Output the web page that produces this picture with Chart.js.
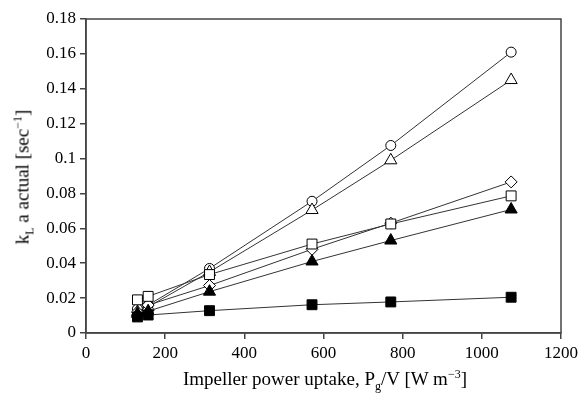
<!DOCTYPE html>
<html>
<head>
<meta charset="utf-8">
<script src="https://cdn.jsdelivr.net/npm/chart.js@4"></script>
<style>
  body { margin: 0; background: #fff; }
  #wrap { position: relative; width: 582px; height: 394px; }
  .ttl { position: absolute; font-family: "Liberation Serif", serif; font-size: 19px; line-height: 1; color: #000; white-space: nowrap; }
  .ttl sub, .ttl sup { font-size: 12px; line-height: 0; }
  #xTitle { left: 325px; top: 369px; transform: translateX(-50%); }
  #yTitle { left: 22px; top: 177px; transform: translate(-50%, -50%) rotate(-90deg); }
</style>
</head>
<body>
<div id="wrap">
  <canvas id="chart" width="582" height="394"></canvas>
  <div class="ttl" id="xTitle">Impeller power uptake, P<sub>g</sub>/V [W m<sup>&minus;3</sup>]</div>
  <div class="ttl" id="yTitle">k<sub>L</sub> a actual [sec<sup>&minus;1</sup>]</div>
</div>
<script>
// power uptake (x) values
const powerUptake = [130, 157, 312, 571, 770, 1074];

// kLa series
const openCircle   = [0.0138, 0.016, 0.037, 0.0755, 0.1075, 0.161];
const openTriangle = [0.012, 0.015, 0.035, 0.0705, 0.099, 0.145];
const openDiamond  = [0.012, 0.016, 0.0272, 0.048, 0.063, 0.0866];
const openSquare   = [0.019, 0.021, 0.0335, 0.051, 0.0625, 0.0786];
const filledTriangle = [0.011, 0.0125, 0.0237, 0.041, 0.053, 0.0708];
const filledSquare = [0.0092, 0.0103, 0.0128, 0.0162, 0.0178, 0.0205];

const xTicks = [0, 200, 400, 600, 800, 1000, 1200];
const yTicks = [0, 0.02, 0.04, 0.06, 0.08, 0.1, 0.12, 0.14, 0.16, 0.18];

function pts(ys) {
  return ys.map((y, i) => ({ x: powerUptake[i], y: y }));
}

function series(label, ys, style, filled, radius) {
  return {
    label: label,
    data: pts(ys),
    borderColor: '#333',
    borderWidth: 1,
    pointStyle: style,
    pointRadius: radius,
    pointBorderWidth: 1,
    pointBorderColor: '#000',
    pointBackgroundColor: filled ? '#000' : '#fff',
    showLine: true,
    fill: false,
    tension: 0
  };
}

const framePlugin = {
  id: 'frame',
  afterDraw(chart) {
    const a = chart.chartArea;
    const c = chart.ctx;
    c.save();
    c.strokeStyle = '#444';
    c.lineWidth = 1.5;
    c.strokeRect(a.left, a.top, a.right - a.left, a.bottom - a.top);
    c.restore();
  }
};

const tickFont = { family: 'Liberation Serif', size: 17 };

const ctx = document.getElementById('chart').getContext('2d');
new Chart(ctx, {
  type: 'scatter',
  data: {
    datasets: [
      series('filled square', filledSquare, 'rect', true, 7),
      series('filled triangle', filledTriangle, 'triangle', true, 7),
      series('open square', openSquare, 'rect', false, 7),
      series('open diamond', openDiamond, 'rectRot', false, 6),
      series('open triangle', openTriangle, 'triangle', false, 7),
      series('open circle', openCircle, 'circle', false, 5)
    ]
  },
  options: {
    responsive: false,
    animation: false,
    layout: { padding: { left: 0, right: 17, top: 19, bottom: 0 } },
    plugins: { legend: { display: false }, tooltip: { enabled: false } },
    scales: {
      x: {
        type: 'linear',
        min: 0, max: 1200,
        afterBuildTicks: s => { s.ticks = xTicks.map(v => ({ value: v })); },
        afterFit: s => { s.height = 61; },
        grid: { drawOnChartArea: false, tickLength: 6, color: '#444', lineWidth: 1.5 },
        border: { color: '#444', width: 1.5 },
        ticks: { color: '#000', padding: 4, font: tickFont, maxRotation: 0, callback: v => String(v) }
      },
      y: {
        type: 'linear',
        min: 0, max: 0.18,
        afterBuildTicks: s => { s.ticks = yTicks.map(v => ({ value: v })); },
        afterFit: s => { s.width = 86; },
        grid: { drawOnChartArea: false, tickLength: 6, color: '#444', lineWidth: 1.5 },
        border: { color: '#444', width: 1.5 },
        ticks: {
          color: '#000', padding: 4, font: tickFont,
          callback: v => String(+v.toFixed(2))
        }
      }
    }
  },
  plugins: [framePlugin]
});
</script>
</body>
</html>
